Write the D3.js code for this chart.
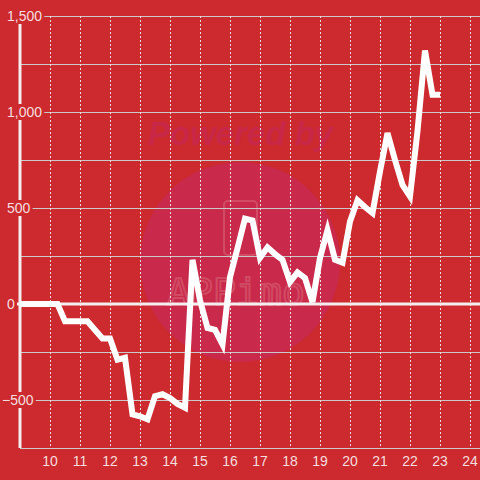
<!DOCTYPE html>
<html><head><meta charset="utf-8">
<script src="https://cdn.jsdelivr.net/npm/d3@7"></script>
<style>html,body{margin:0;padding:0;background:#cc2a2f;}svg{display:block;}</style>
</head><body>
<script>
const xValues = [9, 10.25, 10.5, 11.25, 11.5, 11.75, 12.0, 12.25, 12.5, 12.75, 13.0, 13.25, 13.5, 13.75, 14.0, 14.25, 14.5, 14.75, 15.0, 15.25, 15.5, 15.75, 16.0, 16.25, 16.5, 16.75, 17.0, 17.25, 17.5, 17.75, 18.0, 18.25, 18.5, 18.75, 19.0, 19.25, 19.5, 19.75, 20.0, 20.25, 20.5, 20.75, 21.0, 21.25, 21.5, 21.75, 22.0, 22.25, 22.5, 22.75, 23.0];
const yValues = [0, 0, -90, -90, -135, -180, -180, -290, -280, -575, -585, -600, -480, -470, -490, -520, -540, 230, 20, -125, -135, -210, 140, 290, 445, 435, 240, 295, 260, 230, 115, 165, 135, 10, 240, 385, 230, 215, 430, 540, 505, 474, 690, 890, 750, 620, 560, 900, 1320, 1090, 1090];
const xTicks = [10, 11, 12, 13, 14, 15, 16, 17, 18, 19, 20, 21, 22, 23, 24];
const yGrid = [-750, -500, -250, 0, 250, 500, 750, 1000, 1250, 1500];
const yLabelTicks = [-500, 0, 500, 1000, 1500];

const W = 480, H = 480;
const svg = d3.select("body").append("svg").attr("width", W).attr("height", H);
svg.append("rect").attr("width", W).attr("height", H).attr("fill", "#cc2a2f");

const x = d3.scaleLinear().domain([9, 9 + 460/30]).range([20, 480]);
const y = d3.scaleLinear().domain([-750, 1500]).range([448, 16]);

// watermark
svg.append("circle").attr("cx", 240).attr("cy", 262).attr("r", 100).attr("fill", "#c9294a");
svg.append("text").attr("x", 148).attr("y", 145).text("Powered by")
  .attr("font-family", "Liberation Sans, Arial, sans-serif").attr("font-weight", "bold")
  .attr("font-style", "italic").attr("font-size", 33).attr("fill", "#c92747");
svg.append("rect").attr("x", 224).attr("y", 201).attr("width", 33).attr("height", 54).attr("rx", 4)
  .attr("fill", "none").attr("stroke", "#d65a70").attr("stroke-opacity", 0.7).attr("stroke-width", 2);
svg.append("text").attr("x", 236).attr("y", 305).attr("text-anchor", "middle").text("APPimo")
  .attr("font-family", "DejaVu Sans Mono, monospace").attr("font-size", 38).attr("textLength", 138)
  .attr("fill", "none").attr("stroke", "#d65a70").attr("stroke-opacity", 0.7).attr("stroke-width", 2);

// horizontal gridlines
svg.append("g").selectAll("line").data(yGrid.filter(d => d !== 0)).join("line")
  .attr("x1", 20).attr("x2", 480)
  .attr("y1", d => Math.round(y(d)) + 0.5).attr("y2", d => Math.round(y(d)) + 0.5)
  .attr("stroke", "#c9c9c9").attr("stroke-width", 1);

// vertical dashed gridlines
svg.append("g").selectAll("line").data(xTicks).join("line")
  .attr("x1", d => Math.round(x(d)) + 0.5).attr("x2", d => Math.round(x(d)) + 0.5)
  .attr("y1", y(1500)).attr("y2", y(-750))
  .attr("stroke", "#e8e0e0").attr("stroke-width", 1).attr("stroke-dasharray", "2,2");

// zero line
svg.append("line").attr("x1", 17).attr("x2", 480).attr("y1", y(0)).attr("y2", y(0))
  .attr("stroke", "#f4eeee").attr("stroke-width", 3);

// y axis line
svg.append("line").attr("x1", 20).attr("x2", 20).attr("y1", y(1500)).attr("y2", y(-750))
  .attr("stroke", "#f4eeee").attr("stroke-width", 3);

// y labels with background
const fmt = d3.format(",");
const lab = svg.append("g").selectAll("g").data(yLabelTicks).join("g");
lab.each(function(d) {
  const g = d3.select(this);
  const t = g.append("text").attr("x", d < 0 ? 2 : 7).attr("y", y(d)).attr("dy", "0.35em")
    .text(fmt(d)).attr("font-family", "Liberation Sans, Arial, sans-serif").attr("font-size", 14)
    .attr("fill", "#f4dede");
  const bb = t.node().getBBox();
  g.insert("rect", "text").attr("x", bb.x - 2).attr("y", y(d) - 8).attr("width", bb.width + 4).attr("height", 16)
    .attr("fill", "#cc2a2f");
});

// x labels
svg.append("g").selectAll("text").data(xTicks).join("text")
  .attr("x", d => x(d)).attr("y", 461).attr("dy", "0.35em").attr("text-anchor", "middle")
  .text(d => d).attr("font-family", "Liberation Sans, Arial, sans-serif").attr("font-size", 14)
  .attr("fill", "#f4dede");

// series line
const pts = xValues.map((v, i) => [v, yValues[i]]);
svg.append("path").datum(pts)
  .attr("d", d3.line().x(d => x(d[0])).y(d => y(d[1])))
  .attr("fill", "none").attr("stroke", "#ffffff").attr("stroke-width", 6)
  .attr("stroke-linejoin", "miter");
</script>
</body></html>
